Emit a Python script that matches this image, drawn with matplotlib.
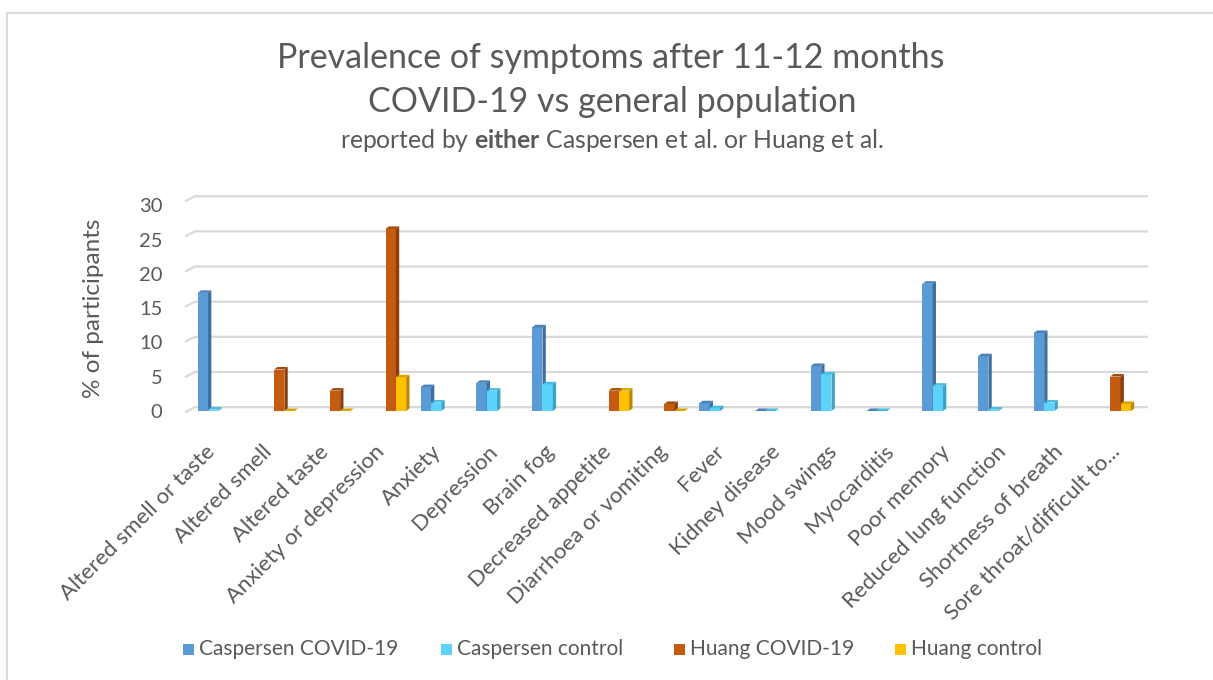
import numpy as np
import matplotlib
matplotlib.use("Agg")
from matplotlib import pyplot as plt
from matplotlib.patches import Polygon, Rectangle
from matplotlib.lines import Line2D

plt.rcParams["font.family"] = ["Lato", "DejaVu Sans"]
plt.rcParams["mathtext.fontset"] = "custom"
plt.rcParams["mathtext.rm"] = "Lato"
plt.rcParams["mathtext.bf"] = "Lato:bold"

# data (nan = not reported by that study)
symptoms = ["Altered smell or taste", "Altered smell", "Altered taste", "Anxiety or depression",
            "Anxiety", "Depression", "Brain fog", "Decreased appetite", "Diarrhoea or vomiting",
            "Fever", "Kidney disease", "Mood swings", "Myocarditis", "Poor memory",
            "Reduced lung function", "Shortness of breath", "Sore throat/difficult to..."]
nan = np.nan
caspersen_covid = [16.8, nan, nan, nan, 3.4, 4.0, 11.9, nan, nan, 1.1, 0, 6.4, 0, 18.1, 7.8, 11.1, nan]
caspersen_control = [0.2, nan, nan, nan, 1.2, 2.9, 3.8, nan, nan, 0.4, 0, 5.2, 0, 3.6, 0.2, 1.2, nan]
huang_covid = [nan, 5.9, 2.9, 25.9, nan, nan, nan, 2.9, 1.0, nan, nan, nan, nan, nan, nan, nan, 4.9]
huang_control = [nan, 0, 0, 4.8, nan, nan, nan, 2.9, 0, nan, nan, nan, nan, nan, nan, nan, 1.0]

series = ["Caspersen COVID-19", "Caspersen control", "Huang COVID-19", "Huang control"]
values = [caspersen_covid, caspersen_control, huang_covid, huang_control]
front = ["#5B9BD5", "#5BD3FC", "#C55A11", "#FFC000"]
side = ["#3F6F9E", "#3BA3C4", "#8A3E0B", "#B88A00"]
top = ["#4A82B8", "#49BCE3", "#A24A0E", "#D9A300"]

grey = "#595959"

fig = plt.figure(figsize=(12.13, 6.8), dpi=100)
W, H = 1213, 680

# chart border
fig.add_artist(Line2D([7 / W, 1], [1 - 13 / H, 1 - 13 / H], color="#D9D9D9", lw=1.5))
fig.add_artist(Line2D([7 / W, 7 / W], [0, 1 - 13 / H], color="#D9D9D9", lw=1.5))

ax = fig.add_axes([186 / W, (H - 411) / H, 961 / W, 210.9 / H])
ax.set_xlim(-0.58, 16.66)
ax.set_ylim(0, 30)
for s in ax.spines.values():
    s.set_visible(False)

# back wall gridlines with a little slant at the left
for v in range(0, 31, 5):
    ax.plot([-0.58, -0.42, 16.66], [v - 0.1, v + 0.55, v + 0.55], color="#D9D9D9",
            lw=1.6, clip_on=False, zorder=1)

w = 0.185
dx, dy = 0.06, 0.36
x = np.arange(len(symptoms))
for k in range(4):
    vals = np.array(values[k], dtype=float)
    for i in range(len(symptoms)):
        v = vals[i]
        if np.isnan(v):
            continue
        xl = x[i] + (k - 2) * w
        xr = xl + w
        ax.add_patch(Rectangle((xl, 0), w, v, facecolor=front[k], edgecolor="none", zorder=3 + k))
        ax.add_patch(Polygon([(xr, 0), (xr + dx, dy), (xr + dx, v + dy), (xr, v)],
                             closed=True, facecolor=side[k], edgecolor="none", zorder=3 + k))
        ax.add_patch(Polygon([(xl, v), (xl + dx, v + dy), (xr + dx, v + dy), (xr, v)],
                             closed=True, facecolor=top[k], edgecolor="none", zorder=3 + k))

yt = np.arange(0, 31, 5)
ax.set_yticks(yt * 0.975)
ax.set_yticklabels([str(t) for t in yt], fontsize=14.5, color=grey)
ax.tick_params(axis="y", length=0, pad=17)

ax.set_xticks(x * 1.014 - 0.11)
ax.set_xticklabels(symptoms, rotation=45, ha="right", va="center", rotation_mode="anchor",
                   fontsize=16, color=grey)
ax.tick_params(axis="x", length=0, pad=27)

fig.text(93 / W, 1 - 308 / H, "% of participants", rotation=90, ha="center", va="center",
         fontsize=17.5, color=grey)

fig.text(611 / W, 1 - 58 / H, "Prevalence of symptoms after 11-12 months", ha="center",
         va="center", fontsize=24.5, color=grey)
fig.text(612 / W, 1 - 102 / H, "COVID-19 vs general population", ha="center", va="center",
         fontsize=24.5, color=grey)
fig.text(612 / W, 1 - 141 / H, r"reported by $\mathbf{either}$ Caspersen et al. or Huang et al.",
         ha="center", va="center", fontsize=17.8, color=grey)

# legend
leg_x = [183, 441, 674, 895]
for k in range(4):
    fig.add_artist(Rectangle((leg_x[k] / W, 1 - 655 / H), 11 / W, 11 / H, facecolor=front[k],
                             edgecolor="none", transform=fig.transFigure))
    fig.text((leg_x[k] + 16) / W, 1 - 649 / H, series[k], ha="left", va="center",
             fontsize=15, color=grey)

fig.savefig("out.png", dpi=100)
